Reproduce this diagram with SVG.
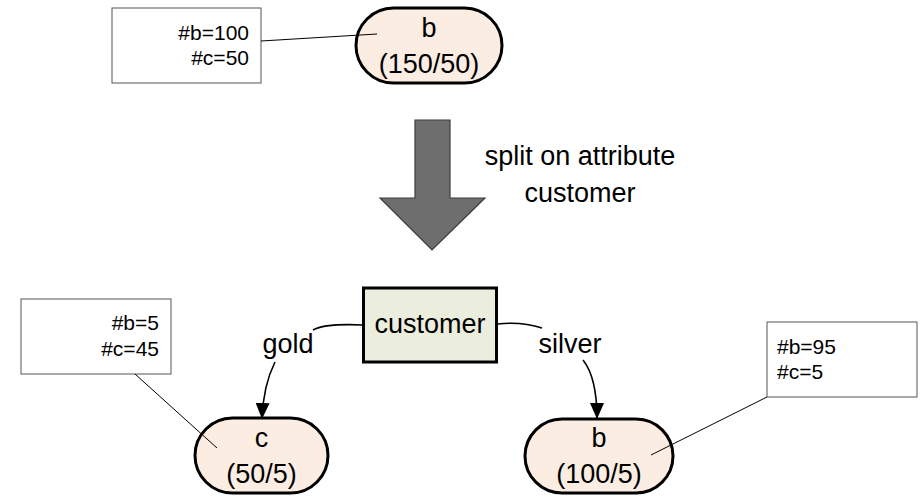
<svg xmlns="http://www.w3.org/2000/svg" width="922" height="497" viewBox="0 0 922 497">
<style>
text{font-family:"Liberation Sans",Arial,sans-serif;fill:#000}
.big{font-size:27px}
.note{font-size:21px}
.node{fill:#fcede2;stroke:#000;stroke-width:3}
.nb{fill:#fff;stroke:#555;stroke-width:1}
.thin{fill:none;stroke:#000;stroke-width:1}
.edge{fill:none;stroke:#000;stroke-width:1.6}
</style>
<defs>
<marker id="ah" viewBox="0 0 16 14" refX="16" refY="7" markerWidth="16" markerHeight="14" markerUnits="userSpaceOnUse" orient="auto">
<path d="M0,0 L16,7 L0,14 Z" fill="#000"/>
</marker>
</defs>
<rect width="922" height="497" fill="#fff"/>
<g id="note-top">
<rect class="nb" x="112" y="8" width="149" height="75"/>
<text class="note" x="249" y="40" text-anchor="end">#b=100</text>
<text class="note" x="249" y="65" text-anchor="end">#c=50</text>
</g>
<g id="node-root">
<rect class="node" x="356" y="8" width="146" height="75" rx="37.5"/>
<text class="big" x="429" y="37" text-anchor="middle">b</text>
<text class="big" x="429" y="73" text-anchor="middle">(150/50)</text>
</g>
<g id="split-arrow">
<path d="M415,120 L450,120 L450,198 L485,198 L432,250 L380,198 L415,198 Z" fill="#6e6e6e" stroke="#3c3c3c" stroke-width="1.2"/>
<text class="big" x="580" y="165" text-anchor="middle">split on attribute</text>
<text class="big" x="580" y="202" text-anchor="middle">customer</text>
</g>
<g id="node-customer">
<rect x="363.5" y="288" width="133" height="74" fill="#ebeedd" stroke="#000" stroke-width="3"/>
<text class="big" x="430" y="333" text-anchor="middle">customer</text>
</g>
<g id="note-left">
<rect class="nb" x="21" y="299" width="150" height="75"/>
<text class="note" x="159" y="330" text-anchor="end">#b=5</text>
<text class="note" x="159" y="356" text-anchor="end">#c=45</text>
</g>
<g id="node-c">
<rect class="node" x="195" y="418" width="133" height="75" rx="37.5"/>
<text class="big" x="261.5" y="447" text-anchor="middle">c</text>
<text class="big" x="261.5" y="483" text-anchor="middle">(50/5)</text>
</g>
<g id="node-b">
<rect class="node" x="525" y="419" width="148" height="74" rx="37"/>
<text class="big" x="599" y="447" text-anchor="middle">b</text>
<text class="big" x="599" y="483" text-anchor="middle">(100/5)</text>
</g>
<g id="note-right">
<rect class="nb" x="767" y="322" width="150" height="75"/>
<text class="note" x="777" y="354">#b=95</text>
<text class="note" x="777" y="379">#c=5</text>
</g>
<g id="connectors">
<line class="thin" x1="261" y1="41" x2="377" y2="34"/>
<line class="thin" x1="135" y1="374" x2="217" y2="448"/>
<line class="thin" x1="767" y1="397" x2="651" y2="455"/>
<path class="edge" d="M363,325 C340,324 322,325 313,330"/>
<path class="edge" d="M275,362 C268,376 263,392 262,419" marker-end="url(#ah)"/>
<path class="edge" d="M497,324 C515,322 530,324 542,328"/>
<path class="edge" d="M583,360 C591,370 597,388 597,419" marker-end="url(#ah)"/>
<text class="big" x="288" y="353" text-anchor="middle">gold</text>
<text class="big" x="570" y="353" text-anchor="middle">silver</text>
</g>
</svg>
